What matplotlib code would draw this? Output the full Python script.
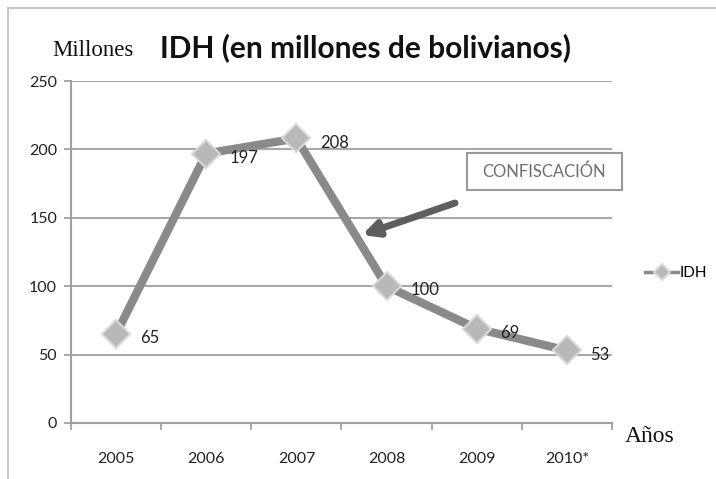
import matplotlib.pyplot as plt
from matplotlib.patches import Rectangle, FancyBboxPatch

# IDH revenue, millions of bolivianos
years = ['2005', '2006', '2007', '2008', '2009', '2010*']
idh = [65, 197, 208, 100, 69, 53]
yticks = [0, 50, 100, 150, 200, 250]

W, H = 716, 479
fig = plt.figure(figsize=(W / 100, H / 100), dpi=100)
fig.patch.set_facecolor('white')

# outer chart frame
fig.patches.append(Rectangle((8 / W, -0.1), 1.2, 1 - 8 / H + 0.1,
                             transform=fig.transFigure, fill=False,
                             edgecolor='#c8c8c8', linewidth=1.5))

ax = fig.add_axes([71 / W, 1 - 423 / H, (612 - 71) / W, (423 - 81) / H])
x = list(range(len(years)))

ax.set_xlim(-0.5, len(years) - 0.5)
ax.set_ylim(0, 250)
ax.set_yticks(yticks)
ax.set_xticks(x)
ax.set_xticklabels(years)
ax.set_xticks([i - 0.5 for i in range(len(years) + 1)], minor=True)
ax.tick_params(axis='x', which='major', length=0, pad=21, labelsize=11.5)
ax.tick_params(axis='x', which='minor', length=5, color='#9a9a9a', width=1.2)
ax.tick_params(axis='y', length=5, color='#9a9a9a', width=1.2, pad=5, labelsize=11.5)
for lab in ax.get_xticklabels() + ax.get_yticklabels():
    lab.set_fontfamily('Lato')
    lab.set_color('#222222')

ax.grid(axis='y', color='#a8a8a8', linewidth=1.5)
ax.set_axisbelow(True)
for s in ['top', 'right']:
    ax.spines[s].set_visible(False)
for s in ['left', 'bottom']:
    ax.spines[s].set_color('#a0a0a0')
    ax.spines[s].set_linewidth(1.5)

ax.plot(x, idh, color='#8a8a8a', linewidth=6, marker='D', markersize=14,
        markerfacecolor='#b8b8b8', markeredgecolor='#d8d8d8',
        markeredgewidth=1.5, label='IDH', zorder=3, clip_on=False)

for xi, v in zip(x, idh):
    ax.annotate(str(v), (xi, v), xytext=(17, -3), textcoords='offset points',
                ha='left', va='center', fontsize=12, family='Lato',
                color='#222222', zorder=4)

# arrow pointing at the drop after 2007
ax.annotate('', xy=(362 / W, 1 - 235 / H), xycoords='figure fraction',
            xytext=(455 / W, 1 - 203 / H), textcoords='figure fraction',
            arrowprops=dict(arrowstyle='-|>,head_length=0.9,head_width=0.45',
                            color='#5e5e5e', linewidth=5, shrinkA=0, shrinkB=0))

# label box
box = FancyBboxPatch((467 / W, 1 - 190 / H), 155 / W, 37 / H,
                     boxstyle='square,pad=0', transform=fig.transFigure,
                     facecolor='white', edgecolor='#9a9a9a', linewidth=1.5)
fig.patches.append(box)
fig.text(544 / W, 1 - 172 / H, 'CONFISCACIÓN', ha='center', va='center',
         fontsize=12, family='Lato', color='#6e6e6e')

leg = ax.legend(loc='center left', bbox_to_anchor=(631 / W, 1 - 273 / H),
                bbox_transform=fig.transFigure, frameon=False,
                prop={'family': 'Lato', 'size': 11}, handlelength=2.2,
                handletextpad=0.1, markerscale=0.55)
for line in leg.get_lines():
    line.set_linewidth(2.5)

fig.text(366 / W, 1 - 48 / H, 'IDH (en millones de bolivianos)', ha='center',
         va='center', fontsize=21.5, fontweight='bold', family='Lato',
         color='#111111')
fig.text(52 / W, 1 - 50 / H, 'Millones', ha='left', va='center',
         fontsize=16.5, family='Liberation Serif', color='#111111')
fig.text(625 / W, 1 - 437 / H, 'Años', ha='left', va='center',
         fontsize=17, family='Liberation Serif', color='#111111')

fig.savefig('out.png', dpi=100)
